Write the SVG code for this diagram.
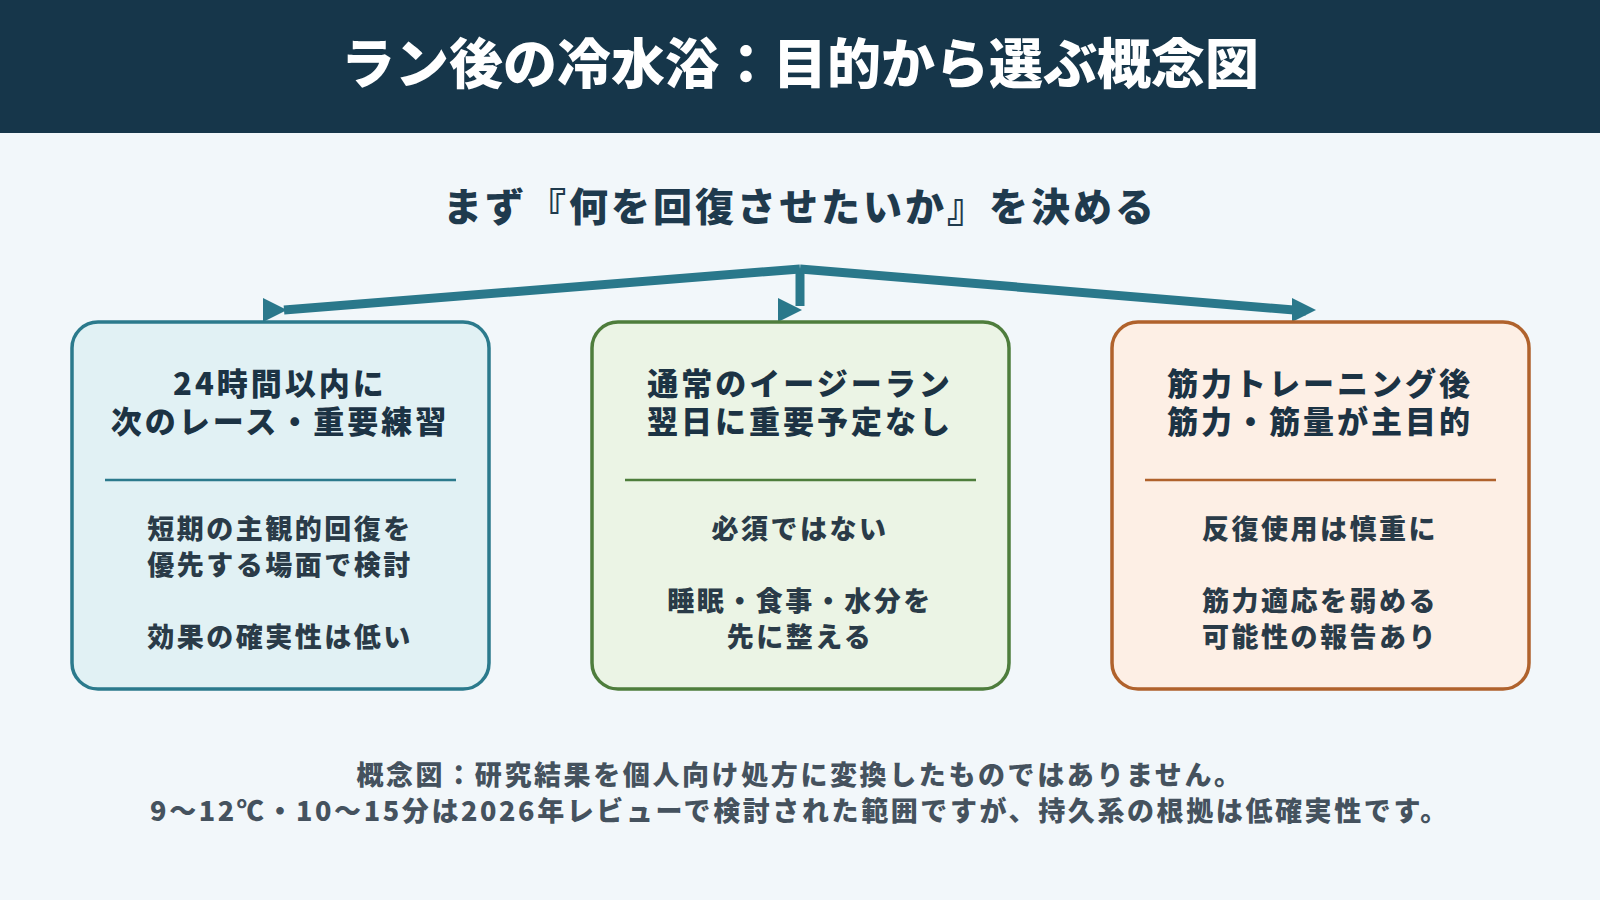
<svg xmlns="http://www.w3.org/2000/svg" width="1600" height="900" viewBox="0 0 1600 900">
<style>
text{font-family:"Noto Sans CJK JP","Noto Sans",sans-serif;font-weight:900;text-anchor:middle}
.t{font-size:31px;fill:#1c3344;letter-spacing:3px}
.b{font-size:27px;fill:#2a3b48;letter-spacing:2.5px}
.f{font-size:27px;fill:#45525e;letter-spacing:2.6px}
.ah{fill:#2a788b}
</style>
<rect width="1600" height="900" fill="#f2f7fa"/>
<rect width="1600" height="133" fill="#16364a"/>
<text x="800" y="84" font-size="54" fill="#ffffff">ラン後の冷水浴：目的から選ぶ概念図</text>
<text x="800" y="221" font-size="39" fill="#1f3a4d" letter-spacing="3">まず『何を回復させたいか』を決める</text>
<g id="connectors">
<g stroke="#2a788b" stroke-width="9" fill="none">
<path d="M800,269 L284,310"/>
<path d="M800,269 L800,306"/>
<path d="M800,269 L1306,311"/>
</g>
<polygon class="ah" points="263,298 287,310 263,322"/>
<polygon class="ah" points="778,298 802,310 778,322"/>
<polygon class="ah" points="1292,298 1316,310 1292,322"/>
</g>
<g id="n1">
<rect x="72" y="322" width="417" height="367" rx="26" fill="#e1f1f4" stroke="#2b7a8c" stroke-width="3.5"/>
<text class="t" x="280" y="395">24時間以内に</text>
<text class="t" x="280" y="433">次のレース・重要練習</text>
<line x1="105" y1="480" x2="456" y2="480" stroke="#2b7a8c" stroke-width="2.5"/>
<text class="b" x="280" y="539">短期の主観的回復を</text>
<text class="b" x="280" y="575">優先する場面で検討</text>
<text class="b" x="280" y="647">効果の確実性は低い</text>
</g>
<g id="n2">
<rect x="592" y="322" width="417" height="367" rx="26" fill="#ebf4e5" stroke="#4e7d3c" stroke-width="3.5"/>
<text class="t" x="800" y="395">通常のイージーラン</text>
<text class="t" x="800" y="433">翌日に重要予定なし</text>
<line x1="625" y1="480" x2="976" y2="480" stroke="#4e7d3c" stroke-width="2.5"/>
<text class="b" x="800" y="539">必須ではない</text>
<text class="b" x="800" y="611">睡眠・食事・水分を</text>
<text class="b" x="800" y="647">先に整える</text>
</g>
<g id="n3">
<rect x="1112" y="322" width="417" height="367" rx="26" fill="#fdefe5" stroke="#b0622c" stroke-width="3.5"/>
<text class="t" x="1320" y="395">筋力トレーニング後</text>
<text class="t" x="1320" y="433">筋力・筋量が主目的</text>
<line x1="1145" y1="480" x2="1496" y2="480" stroke="#b0622c" stroke-width="2.5"/>
<text class="b" x="1320" y="539">反復使用は慎重に</text>
<text class="b" x="1320" y="611">筋力適応を弱める</text>
<text class="b" x="1320" y="647">可能性の報告あり</text>
</g>
<text class="f" x="800" y="785">概念図：研究結果を個人向け処方に変換したものではありません。</text>
<text class="f" x="800" y="821">9〜12℃・10〜15分は2026年レビューで検討された範囲ですが、持久系の根拠は低確実性です。</text>
</svg>
